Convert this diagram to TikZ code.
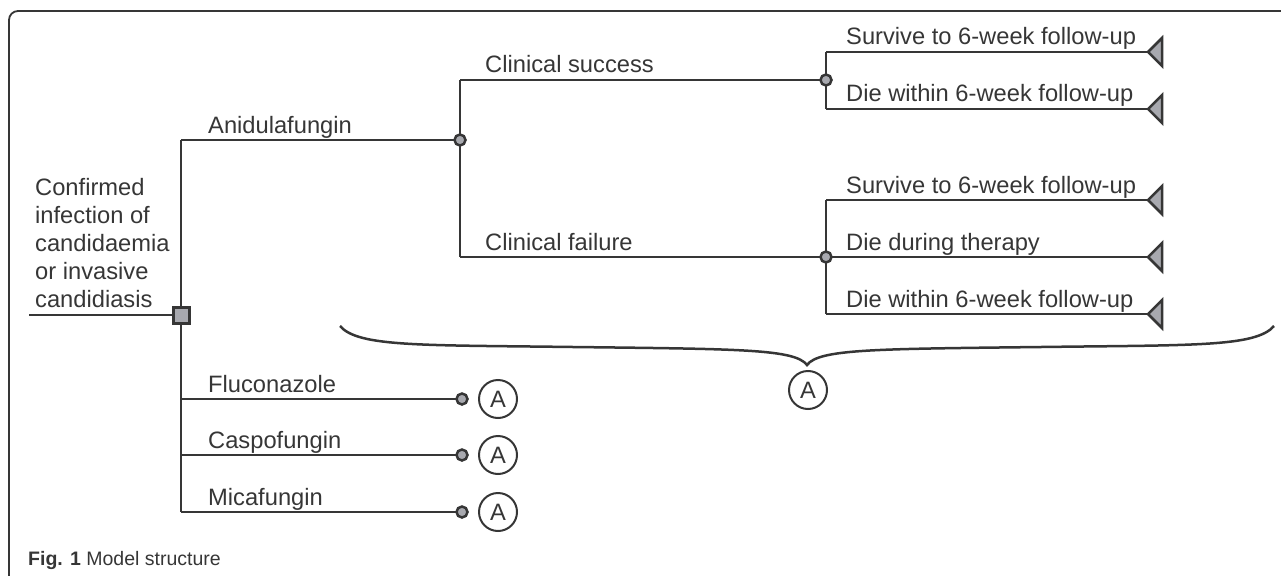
\documentclass[tikz,border=0pt]{standalone}
\usepackage{fontspec}
\setmainfont{Liberation Sans}
\usetikzlibrary{shapes.geometric}
\pgfdeclarelayer{bg}
\pgfsetlayers{bg,main}
\definecolor{ink}{HTML}{363636}
\definecolor{nodefill}{HTML}{A8A9AF}
\begin{document}
\begin{tikzpicture}[x=1pt,y=-1pt,
  branch/.style={draw=ink,line width=2.8pt},
  lbl/.style={anchor=base west,inner sep=0pt,text=ink,font=\fontsize{23.7}{28}\selectfont},
  decision/.style={rectangle,draw=ink,fill=nodefill,line width=3pt,minimum size=16pt,inner sep=0pt},
  chance/.style={circle,draw=ink,fill=nodefill,line width=2.5pt,minimum size=11pt,inner sep=0pt},
  terminal/.style={draw=ink,fill=nodefill,line width=2.5pt,line join=miter},
  refA/.style={circle,draw=ink,line width=2pt,minimum size=38pt,inner sep=0pt,text=ink,font=\fontsize{23.7}{28}\selectfont},
  frame/.style={draw=ink,line width=1.8pt,rounded corners=9pt}
]
\useasboundingbox (0,0) rectangle (1281,575);
% frame
\coordinate (fa) at (9,576);
\coordinate (fb) at (9,11);
\coordinate (fc) at (1282,11);
\draw[frame] (fa) -- (fb) -- (fc);

% coordinates of the tree
\coordinate (root) at (29,315);
\coordinate (dT) at (181,140);
\coordinate (dB) at (181,512);
\coordinate (dF) at (181,399);
\coordinate (dC) at (181,455);
\coordinate (c1T) at (460,80);
\coordinate (c1B) at (460,257);
\coordinate (c2T) at (826,52);
\coordinate (c2B) at (826,109);
\coordinate (c3T) at (826,200);
\coordinate (c3B) at (826,314);
\coordinate (t1) at (1148,52);
\coordinate (t2) at (1148,109);
\coordinate (t3) at (1148,200);
\coordinate (t4) at (1148,257);
\coordinate (t5) at (1148,314);

\node[decision] (d) at (181,315) {};
\node[chance] (c1) at (460,140) {};
\node[chance] (c2) at (826,80) {};
\node[chance] (c3) at (826,257) {};
\node[chance] (c4) at (462,399) {};
\node[chance] (c5) at (462,455) {};
\node[chance] (c6) at (462,512) {};

% branches
\begin{pgfonlayer}{bg}
\draw[branch] (root) -- (d.center);
\draw[branch] (dT) -- (dB);
\draw[branch] (dT) -- (c1.center);
\draw[branch] (dF) -- (c4.center);
\draw[branch] (dC) -- (c5.center);
\draw[branch] (dB) -- (c6.center);
\draw[branch] (c1T) -- (c1B);
\draw[branch] (c1T) -- (c2.center);
\draw[branch] (c1B) -- (c3.center);
\draw[branch] (c2T) -- (c2B);
\draw[branch] (c3T) -- (c3B);
\draw[branch] (c2T) -- (t1);
\draw[branch] (c2B) -- (t2);
\draw[branch] (c3T) -- (t3);
\draw[branch] (c3.center) -- (t4);
\draw[branch] (c3B) -- (t5);
\end{pgfonlayer}

% terminals
\foreach \t in {t1,t2,t3,t4,t5}
  \draw[terminal] (\t) -- ++(14,-14) -- ++(0,28) -- cycle;

% reference circles
\node[refA] (a1) at (498,399) {A};
\node[refA] (a2) at (498,455) {A};
\node[refA] (a3) at (498,512) {A};
\node[refA] (a4) at (808,390) {A};

% brace
\coordinate (bl) at (340,326);
\coordinate (bt) at (807,365);
\coordinate (br) at (1274,326);
\draw[ink,line width=2.5pt] (bl) .. controls (358,347) and (420,345) .. (573,347)
  .. controls (740,349) and (795,349) .. (bt)
  .. controls (819,349) and (874,349) .. (1041,347)
  .. controls (1194,345) and (1256,347) .. (br);

% labels
\node[lbl] (root-l) at (35,195) {Confirmed};
\node[lbl] at (35,223) {infection of};
\node[lbl] at (35,251) {candidaemia};
\node[lbl] at (35,279) {or invasive};
\node[lbl] at (35,307) {candidiasis};
\node[lbl] (l-ani) at (208,133) {Anidulafungin};
\node[lbl] (l-cs) at (485,73) {Clinical success};
\node[lbl] (l-cf) at (485,250) {Clinical failure};
\node[lbl] (l-s1) at (846,45) {Survive to 6-week follow-up};
\node[lbl] (l-d1) at (846,102) {Die within 6-week follow-up};
\node[lbl] (l-s2) at (846,193) {Survive to 6-week follow-up};
\node[lbl] (l-dd) at (846,250) {Die during therapy};
\node[lbl] (l-d2) at (846,307) {Die within 6-week follow-up};
\node[lbl] (l-flu) at (208,392) {Fluconazole};
\node[lbl] (l-cas) at (208,448) {Caspofungin};
\node[lbl] (l-mic) at (208,505) {Micafungin};

% caption
\node[anchor=base west,inner sep=0pt,text=ink,font=\fontsize{19.5}{23}\selectfont] (cap) at (28,565) {\textbf{Fig. 1} Model structure};
\end{tikzpicture}
\end{document}
